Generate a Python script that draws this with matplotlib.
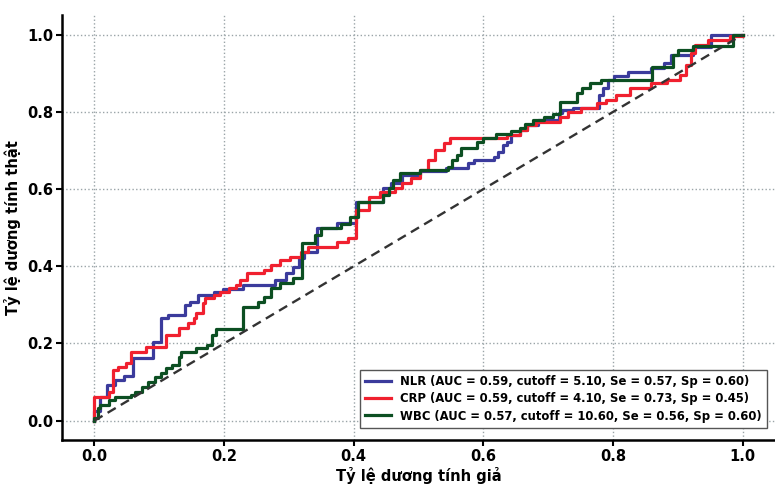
import numpy as np
import matplotlib
matplotlib.use("Agg")
import matplotlib.pyplot as plt

# ROC curves (FPR where TPR jumps, TPR after the jump) -> drawn as steps
nlr_fpr = [0, 0, 0.009, 0.020, 0.032, 0.045, 0.060, 0.091, 0.102, 0.113, 0.140, 0.148, 0.160,
           0.184, 0.199, 0.230, 0.279, 0.295, 0.306, 0.315, 0.323, 0.344, 0.375, 0.403, 0.446,
           0.457, 0.475, 0.503, 0.543, 0.576, 0.585, 0.616, 0.623, 0.631, 0.637, 0.642, 0.657,
           0.668, 0.685, 0.716, 0.722, 0.739, 0.778, 0.784, 0.792, 0.801, 0.823, 0.858, 0.878,
           0.889, 0.924, 0.951, 1.0]
nlr_tpr = [0, 0.026, 0.062, 0.093, 0.106, 0.117, 0.163, 0.205, 0.267, 0.275, 0.301, 0.308, 0.326,
           0.334, 0.342, 0.352, 0.365, 0.383, 0.399, 0.422, 0.438, 0.500, 0.513, 0.567, 0.604,
           0.617, 0.637, 0.648, 0.655, 0.668, 0.676, 0.684, 0.697, 0.715, 0.723, 0.741, 0.754,
           0.767, 0.780, 0.798, 0.806, 0.811, 0.845, 0.863, 0.883, 0.894, 0.904, 0.915, 0.927,
           0.948, 0.969, 1.0, 1.0]

crp_fpr = [0, 0, 0.022, 0.029, 0.037, 0.048, 0.057, 0.080, 0.111, 0.130, 0.145, 0.153, 0.157,
           0.168, 0.171, 0.184, 0.194, 0.207, 0.218, 0.225, 0.236, 0.261, 0.272, 0.287, 0.302,
           0.318, 0.329, 0.375, 0.392, 0.403, 0.423, 0.441, 0.463, 0.475, 0.488, 0.503, 0.515,
           0.526, 0.539, 0.549, 0.637, 0.657, 0.668, 0.681, 0.719, 0.730, 0.750, 0.776, 0.789,
           0.804, 0.827, 0.858, 0.884, 0.904, 0.912, 0.920, 0.927, 0.946, 0.981, 1.0]
crp_tpr = [0, 0.062, 0.073, 0.132, 0.140, 0.150, 0.179, 0.192, 0.223, 0.241, 0.254, 0.267, 0.280,
           0.306, 0.319, 0.326, 0.334, 0.345, 0.352, 0.365, 0.383, 0.391, 0.404, 0.417, 0.425,
           0.438, 0.451, 0.464, 0.474, 0.547, 0.580, 0.593, 0.604, 0.617, 0.630, 0.650, 0.676,
           0.702, 0.720, 0.733, 0.741, 0.754, 0.767, 0.775, 0.788, 0.801, 0.811, 0.824, 0.832,
           0.845, 0.863, 0.876, 0.883, 0.896, 0.922, 0.953, 0.974, 0.987, 0.997, 1.0]

wbc_fpr = [0, 0, 0.006, 0.009, 0.022, 0.032, 0.057, 0.063, 0.073, 0.083, 0.094, 0.103, 0.111,
           0.119, 0.130, 0.133, 0.156, 0.173, 0.181, 0.187, 0.230, 0.253, 0.261, 0.272, 0.287,
           0.307, 0.321, 0.341, 0.349, 0.380, 0.395, 0.406, 0.446, 0.454, 0.461, 0.472, 0.503,
           0.545, 0.552, 0.560, 0.565, 0.591, 0.599, 0.619, 0.642, 0.657, 0.665, 0.677, 0.693,
           0.708, 0.719, 0.745, 0.753, 0.765, 0.781, 0.861, 0.892, 0.900, 0.924, 0.985, 1.0]
wbc_tpr = [0, 0.008, 0.034, 0.041, 0.054, 0.062, 0.067, 0.075, 0.088, 0.101, 0.114, 0.124, 0.137,
           0.145, 0.166, 0.179, 0.189, 0.197, 0.223, 0.238, 0.295, 0.308, 0.321, 0.345, 0.358,
           0.370, 0.461, 0.482, 0.500, 0.510, 0.528, 0.567, 0.585, 0.604, 0.624, 0.642, 0.650,
           0.658, 0.676, 0.689, 0.707, 0.723, 0.733, 0.744, 0.751, 0.759, 0.769, 0.780, 0.788,
           0.795, 0.826, 0.850, 0.863, 0.876, 0.883, 0.917, 0.948, 0.961, 0.971, 1.0, 1.0]

labels = ['NLR (AUC = 0.59, cutoff = 5.10, Se = 0.57, Sp = 0.60)',
          'CRP (AUC = 0.59, cutoff = 4.10, Se = 0.73, Sp = 0.45)',
          'WBC (AUC = 0.57, cutoff = 10.60, Se = 0.56, Sp = 0.60)']
colors = ['#3b3b9c', '#f0202f', '#0c4f22']

fig = plt.figure(figsize=(7.75, 4.84), dpi=100)
ax = fig.add_axes([0.08, 0.091, 0.92, 0.877])

curves = [(nlr_fpr, nlr_tpr), (crp_fpr, crp_tpr), (wbc_fpr, wbc_tpr)]
for (fpr, tpr), lab, col in zip(curves, labels, colors):
    ax.plot(fpr, tpr, drawstyle='steps-post', color=col, lw=2.3, label=lab)

ax.plot([0, 1], [0, 1], linestyle='--', color='#333333', lw=1.7, dashes=(4, 2.5))

ax.set_xlim(-0.05, 1.05)
ax.set_ylim(-0.05, 1.05)
ax.set_xticks(np.arange(0, 1.01, 0.2))
ax.set_yticks(np.arange(0, 1.01, 0.2))
ax.grid(True, linestyle=':', color='#9aa4a8', lw=1.0)
ax.spines['top'].set_visible(False)
ax.spines['right'].set_visible(False)
ax.spines['left'].set_linewidth(1.8)
ax.spines['bottom'].set_linewidth(1.8)
ax.tick_params(labelsize=10.5, width=1.5, length=4, pad=2.5)
for t in ax.get_xticklabels() + ax.get_yticklabels():
    t.set_fontweight('semibold')

ax.set_xlabel('Tỷ lệ dương tính giả', fontsize=10.5, fontweight='semibold', labelpad=2)
ax.set_ylabel('Tỷ lệ dương tính thật', fontsize=10.5, fontweight='semibold', labelpad=4)

leg = ax.legend(loc='lower right', bbox_to_anchor=(0.997, 0.015),
                prop={'weight': 'semibold', 'size': 8.4}, fancybox=False, framealpha=1,
                handlelength=2.2, borderpad=0.45, labelspacing=0.35)
leg.get_frame().set_edgecolor('#555555')

fig.savefig('out.png', dpi=100)
